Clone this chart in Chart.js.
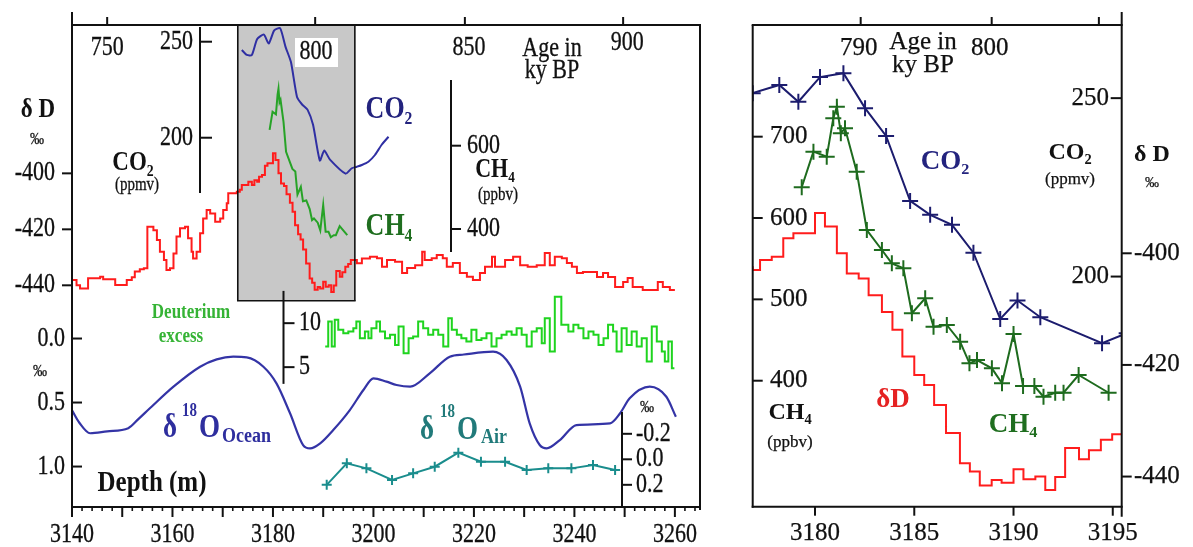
<!DOCTYPE html>
<html><head><meta charset="utf-8">
<script src="https://cdn.jsdelivr.net/npm/chart.js@4.4.0/dist/chart.umd.min.js"></script>
<style>
html,body{margin:0;padding:0;background:#fff;width:1193px;height:547px;overflow:hidden;}
canvas{position:absolute;top:0;}
#c1{left:0;width:720px;height:547px;}
#c2{left:720px;width:473px;height:547px;}
</style></head><body>
<canvas id="c1" width="720" height="547"></canvas>
<canvas id="c2" width="473" height="547"></canvas>
<script>
// ---------------- DATA ----------------
// deuterium (δD, permil) vs depth (m), stepped record
const dDDepth = [3140.0,3140.9,3141.6,3143.2,3145.6,3146.2,3148.6,3150.9,3151.9,3152.5,3153.5,3154.3,3155.0,3156.2,3156.9,3157.5,3158.3,3158.8,3159.5,3160.2,3160.8,3161.5,3162.5,3163.1,3163.8,3164.1,3164.8,3165.5,3166.1,3166.8,3167.5,3168.5,3169.5,3170.1,3170.8,3171.1,3172.8,3173.4,3173.8,3175.1,3175.8,3176.3,
 3176.86,3177.23,3177.82,3178.40,3178.91,3180.0,3180.5,3181.1,3181.6,3182.2,3182.7,3183.37,3183.9,3184.4,3185.0,3185.5,3186.0,3186.6,3187.3,3187.8,3188.3,3188.9,3189.4,3190.0,3190.5,3191.1,3191.6,3192.1,3192.6,3193.3,3193.8,3194.4,3194.97,
 3195.5,3196.7,3197.7,3199.3,3200.7,3201.7,3202.7,3204.3,3205.7,3206.7,3208.3,3209.7,3210.2,3211.6,3212.6,3213.8,3214.6,3215.8,3217.2,3218.6,3219.8,3221.2,3222.2,3223.6,3224.2,3226.2,3227.8,3229.2,3230.7,3232.5,3234.1,3235.1,3236.1,3237.5,3238.5,3239.5,3240.5,3241.7,3243.1,3244.5,3245.7,3246.7,3248.1,3249.7,3250.6,3251.6,3253.6,3255.0,3256.6,3257.6,3259.0,3260.0];
const dDValue = [-438.1,-440.0,-441.1,-437.5,-436.9,-437.8,-439.9,-438.1,-437.1,-435.1,-434.3,-433.9,-419.1,-420.3,-423.8,-428.0,-431.0,-434.5,-433.9,-428.6,-422.6,-419.6,-419.1,-423.2,-428.0,-430.4,-428.0,-421.4,-416.1,-413.1,-414.3,-417.3,-416.1,-413.1,-410.7,-407.1,-406.6,-405.9,-404.2,-403.0,-404.2,-402.5,
 -403.0,-401.2,-400.6,-397.3,-396.4,-392.8,-395.2,-400.0,-403.6,-404.5,-407.5,-410.5,-413.7,-418.5,-421.8,-423.6,-427.2,-432.2,-437.6,-439.1,-441.6,-440.6,-441.1,-438.7,-440.5,-440.0,-442.4,-440.1,-434.9,-436.9,-435.3,-433.4,-432.4,
 -431.0,-432.1,-430.4,-429.8,-430.3,-433.4,-431.0,-431.6,-435.6,-433.8,-432.8,-428.0,-431.0,-430.3,-429.2,-430.3,-433.4,-432.0,-435.6,-436.9,-438.1,-435.6,-433.4,-429.8,-433.4,-431.0,-429.8,-432.8,-433.4,-432.8,-428.5,-432.8,-429.8,-430.3,-432.0,-433.4,-435.6,-435.2,-435.2,-437.0,-435.6,-437.0,-440.6,-438.8,-437.4,-440.6,-441.7,-441.7,-438.8,-440.6,-441.7,-441.7];

// CO2 (ppmv)
const co2Depth = [3173.8,3174.8,3175.8,3176.86,3178.2,3179.16,3180.25,3181.43,3182.52,3183.58,3184.79,3185.8,3186.9,3187.98,3189.33,3190.2,3191.35,3194.46,3195.7,3196.7,3197.7,3199.0,3200.3,3201.6,3203.0];
const co2Value = [245.7,243.1,243.1,251.4,253.7,249.0,255.9,257.0,247.2,239.4,221.2,217.3,214.5,206.7,188.1,193.3,188.6,181.3,184.1,184.9,185.8,187.5,191.0,196.2,200.5];

// CH4 (ppbv)
const ch4Depth = [3179.33,3179.92,3180.59,3180.92,3181.1,3181.3,3181.51,3182.1,3182.61,3183.37,3183.87,3184.45,3184.88,3185.55,3185.97,3186.64,3187.31,3187.78,3188.16,3188.91,3189.42,3190.0,3190.48,3191.05,3191.51,3192.1,3192.52,3193.28,3194.79];
const ch4Value = [637.8,681.6,675.4,722.6,736.9,704.2,710.3,657.0,585.3,560.7,544.3,538.2,482.9,501.3,466.4,468.5,447.9,421.4,425.4,415.2,396.8,457.4,393.5,393.5,380.3,385.2,385.2,407.0,385.2];

// Deuterium excess (permil)
const dexDepth = [3190.4,3191.0,3191.7,3192.3,3193.0,3194.0,3195.0,3196.0,3196.6,3197.3,3198.3,3199.0,3199.6,3200.6,3201.3,3202.3,3203.3,3204.3,3205.0,3206.0,3207.0,3207.9,3208.9,3209.9,3210.9,3211.9,3212.9,3213.9,3214.9,3215.6,3216.6,3217.5,3218.5,3219.5,3220.5,3221.5,3222.5,3223.5,3224.5,3225.5,3226.5,3227.5,3228.5,3229.5,3230.5,3231.5,3232.5,3233.5,3234.1,3235.1,3236.1,3237.4,3238.8,3239.8,3240.8,3241.8,3242.8,3243.8,3244.8,3245.8,3246.7,3247.7,3248.4,3249.4,3250.4,3251.4,3252.4,3253.4,3254.4,3255.4,3256.4,3257.4,3258.0,3258.7,3259.4,3259.9];
const dexValue = [7.34,10.19,7.34,10.38,9.24,8.86,9.05,9.43,10.19,8.29,9.05,8.29,9.43,10.19,9.05,8.29,8.67,7.53,9.62,6.58,8.29,8.48,10.19,9.43,8.67,9.24,8.67,7.34,10.57,9.24,8.67,8.29,7.91,9.24,8.10,8.29,8.86,7.34,8.29,8.67,9.05,8.67,9.43,8.67,7.34,9.05,9.43,7.72,10.57,6.77,13.0,9.81,9.05,9.81,9.43,8.29,9.05,8.67,7.53,8.29,9.81,9.05,6.77,9.43,7.53,9.05,7.34,8.29,5.64,9.62,7.91,6.77,5.64,7.91,4.88,4.88];

// δ18O ocean (permil)
const oceanDepth = [3140.0,3141.5,3143.6,3147.0,3151.2,3153.2,3155.5,3160.2,3165.5,3168.8,3172.1,3174.8,3178.1,3180.7,3183.4,3186.0,3187.4,3189.4,3192.0,3195.3,3198.0,3200.0,3202.6,3204.6,3207.3,3211.2,3215.2,3218.0,3223.8,3226.5,3229.2,3231.1,3233.1,3234.5,3237.1,3240.4,3247.1,3249.1,3251.0,3255.0,3258.3,3260.2];
const oceanValue = [0.56,0.66,0.74,0.725,0.70,0.63,0.545,0.376,0.22,0.163,0.142,0.147,0.22,0.35,0.584,0.832,0.858,0.819,0.715,0.559,0.402,0.311,0.337,0.363,0.376,0.272,0.142,0.125,0.103,0.168,0.376,0.663,0.832,0.858,0.793,0.676,0.663,0.584,0.467,0.376,0.455,0.611];

// δ18O air (permil)
const airDepth = [3190.7,3194.7,3198.6,3203.7,3207.9,3212.2,3216.9,3221.4,3226.2,3230.5,3234.8,3239.4,3243.7,3248.1];
const airValue = [0.20,0.031,0.071,0.162,0.110,0.058,-0.052,0.019,0.019,0.084,0.071,0.071,0.045,0.084];

// tick labels
const depthTicksL = [3140,3160,3180,3200,3220,3240,3260];
const ageTicksL = [750,800,850,900];
const ageTickDepthL = [3147.0,3188.4,3218.2,3249.7];
const dDTicks = [-400,-420,-440];
const co2TicksL = [250,200];
const ch4TicksL = [600,400];
const dexTicks = [10,5];
const oceanTicks = [0.0,0.5,1.0];
const airTicks = [-0.2,0.0,0.2];
const depthTicksR = [3180,3185,3190,3195];
const ageTicksR = [790,800,''];
const ageTickDepthR = [3182.3,3188.9,3194.3];
const ch4TicksR = [700,600,500,400];
const co2TicksR = [250,200];
const dDTicksR = [-400,-420,-440];
// highlighted depth interval (grey box)
const boxDepth = [3173.0,3196.3];

// ---------------- HELPERS ----------------
const FONT = '"Liberation Serif","Times New Roman",serif';
function txt(ctx, s, x, y, o = {}) {
  ctx.save();
  ctx.font = (o.bold ? 'bold ' : '') + (o.size || 22) + 'px ' + FONT;
  ctx.fillStyle = o.color || '#111';
  ctx.strokeStyle = o.color || '#111';
  ctx.lineWidth = 0.25;
  ctx.textAlign = o.align || 'center';
  ctx.textBaseline = 'middle';
  ctx.translate(x, y);
  ctx.scale(1, o.sy || 1);
  ctx.fillText(s, 0, 0);
  if (!o.bold) ctx.strokeText(s, 0, 0);
  ctx.restore();
}
function line(ctx, x0, y0, x1, y1, w = 2, c = '#111') {
  ctx.save(); ctx.strokeStyle = c; ctx.lineWidth = w; ctx.lineCap = 'butt';
  ctx.beginPath(); ctx.moveTo(x0, y0); ctx.lineTo(x1, y1); ctx.stroke(); ctx.restore();
}
function pts(d, v) { return d.map((x, i) => ({x, y: v[i]})); }
const fmt1 = v => v.toFixed(1);

// ---------------- LEFT PANEL ----------------
const SYL = 1.22;
const leftPlugin = {
  id: 'leftDeco',
  beforeDatasetsDraw(chart) {
    const {ctx, chartArea: a, scales: s} = chart;
    const x0 = s.x.getPixelForValue(boxDepth[0]), x1 = s.x.getPixelForValue(boxDepth[1]);
    const y1 = s.yD.getPixelForValue(-445.5);
    ctx.save(); ctx.fillStyle = '#c8c8c8'; ctx.fillRect(x0, a.top, x1 - x0, y1 - a.top); ctx.restore();
  },
  afterDatasetsDraw(chart) {
    const {ctx, chartArea: a, scales: s} = chart;
    const X = v => s.x.getPixelForValue(v);
    const bx0 = X(boxDepth[0]), bx1 = X(boxDepth[1]), by1 = s.yD.getPixelForValue(-445.5);
    line(ctx, bx0, a.top, bx0, by1, 1.6); line(ctx, bx1, a.top, bx1, by1, 1.6); line(ctx, bx0 - 0.8, by1, bx1 + 0.8, by1, 1.6);
    line(ctx, a.left, 12, a.left, a.bottom + 1);
    line(ctx, a.left - 1, a.top, a.right + 1, a.top);
    line(ctx, a.right, a.top, a.right, a.bottom + 3);
    line(ctx, a.left - 1, a.bottom, a.right + 1, a.bottom);
    for (let d = 3140; d <= 3264; d += 2) {
      const major = d % 10 === 0;
      line(ctx, X(d), a.bottom, X(d), a.bottom + (major ? 10 : 4), major ? 2 : 1.6);
    }
    depthTicksL.forEach(d => txt(ctx, String(d), X(d), 535, {size: 22, sy: SYL}));
    ageTickDepthL.forEach(d => line(ctx, X(d), a.top, X(d), a.top - 8));
    txt(ctx, String(ageTicksL[0]), X(ageTickDepthL[0]), 48, {size: 22, sy: SYL});
    ctx.save(); ctx.fillStyle = '#fff'; ctx.fillRect(295, 38, 43, 29); ctx.restore();
    txt(ctx, String(ageTicksL[1]), 316, 52, {size: 22, sy: SYL});
    txt(ctx, String(ageTicksL[2]), X(ageTickDepthL[2]) + 4, 48, {size: 22, sy: SYL});
    txt(ctx, String(ageTicksL[3]), X(ageTickDepthL[3]) + 4, 43, {size: 22, sy: SYL});
    txt(ctx, 'Age in', 552, 49, {size: 22, sy: SYL});
    txt(ctx, 'ky BP', 552, 71, {size: 22, sy: SYL});
    dDTicks.forEach(v => {
      const y = s.yD.getPixelForValue(v);
      line(ctx, a.left - 10, y, a.left, y);
      txt(ctx, String(v), a.left - 17, y, {size: 22, sy: SYL, align: 'right'});
    });
    txt(ctx, 'δ D', 38, 110, {size: 23, bold: true, sy: SYL});
    txt(ctx, '‰', 37, 140, {size: 14, sy: SYL});
    oceanTicks.forEach(v => {
      const y = s.yO.getPixelForValue(v);
      line(ctx, a.left, y, a.left + 10, y);
      txt(ctx, fmt1(v), 65, y, {size: 22, sy: SYL, align: 'right'});
    });
    txt(ctx, '‰', 40, 372, {size: 14, sy: SYL});
    {
      const xa = 200;
      line(ctx, xa, s.yC.getPixelForValue(257.7), xa, s.yC.getPixelForValue(171.2));
      co2TicksL.forEach(v => { const y = s.yC.getPixelForValue(v); line(ctx, xa, y, xa + 12, y); txt(ctx, String(v), 193, y, {size: 22, sy: SYL, align: 'right'}); });
      txt(ctx, 'CO₂', 133, 163, {size: 23, bold: true, sy: SYL});
      txt(ctx, '(ppmv)', 137, 185, {size: 15, sy: SYL});
    }
    {
      const xa = 451;
      line(ctx, xa, s.yM.getPixelForValue(757.7), xa, s.yM.getPixelForValue(344.8));
      ch4TicksL.forEach(v => { const y = s.yM.getPixelForValue(v); line(ctx, xa, y, xa + 10, y); txt(ctx, String(v), 467, y, {size: 22, sy: SYL, align: 'left'}); });
      txt(ctx, 'CH₄', 495, 170, {size: 22, bold: true, sy: SYL});
      txt(ctx, '(ppbv)', 498, 195, {size: 15, sy: SYL});
    }
    {
      const xa = 283.5;
      line(ctx, xa, s.yE.getPixelForValue(13.67), xa, s.yE.getPixelForValue(3.1));
      dexTicks.forEach(v => { const y = s.yE.getPixelForValue(v); line(ctx, xa, y, xa + 11, y); txt(ctx, String(v), 299, y, {size: 22, sy: SYL, align: 'left'}); });
      txt(ctx, 'Deuterium', 191, 313, {size: 17, bold: true, color: '#35b335', sy: SYL});
      txt(ctx, 'excess', 181, 337, {size: 17, bold: true, color: '#35b335', sy: SYL});
    }
    {
      const xa = 622;
      line(ctx, xa, s.yA.getPixelForValue(-0.371), xa, a.bottom);
      airTicks.forEach(v => { const y = s.yA.getPixelForValue(v); line(ctx, xa, y, xa + 10, y); txt(ctx, fmt1(v), 636, y, {size: 22, sy: SYL, align: 'left'}); });
      txt(ctx, '‰', 647, 408, {size: 14, sy: SYL});
    }
    txt(ctx, 'CO₂', 389, 110, {size: 26, bold: true, color: '#23237e', sy: SYL});
    txt(ctx, 'CH₄', 389, 227, {size: 26, bold: true, color: '#1f6e1f', sy: SYL});
    const ocC = '#2e2e9e';
    txt(ctx, 'δ', 163, 428, {size: 27, bold: true, color: ocC, sy: SYL, align: 'left'});
    txt(ctx, '18', 182, 411, {size: 15, bold: true, color: ocC, sy: SYL, align: 'left'});
    txt(ctx, 'O', 199, 428, {size: 27, bold: true, color: ocC, sy: SYL, align: 'left'});
    txt(ctx, 'Ocean', 222, 436, {size: 18, bold: true, color: ocC, sy: SYL, align: 'left'});
    const aiC = '#217a7a';
    txt(ctx, 'δ', 420, 430, {size: 27, bold: true, color: aiC, sy: SYL, align: 'left'});
    txt(ctx, '18', 440, 412, {size: 15, bold: true, color: aiC, sy: SYL, align: 'left'});
    txt(ctx, 'O', 457, 430, {size: 27, bold: true, color: aiC, sy: SYL, align: 'left'});
    txt(ctx, 'Air', 481, 437, {size: 18, bold: true, color: aiC, sy: SYL, align: 'left'});
    txt(ctx, 'Depth (m)', 152, 483, {size: 25, bold: true, sy: SYL});
  }
};

new Chart(document.getElementById('c1'), {
  type: 'line',
  data: {
    datasets: [
      {label: 'δD', data: pts(dDDepth, dDValue), yAxisID: 'yD', borderColor: '#ff1c1c', borderWidth: 2, stepped: 'before', pointRadius: 0},
      {label: 'CO2', data: pts(co2Depth, co2Value), yAxisID: 'yC', borderColor: '#2f2fa3', borderWidth: 2, tension: 0.2, pointRadius: 0},
      {label: 'CH4', data: pts(ch4Depth, ch4Value), yAxisID: 'yM', borderColor: '#27a327', borderWidth: 2, tension: 0, pointRadius: 0},
      {label: 'Deuterium excess', data: pts(dexDepth, dexValue), yAxisID: 'yE', borderColor: '#1fd41f', borderWidth: 2, stepped: 'before', pointRadius: 0},
      {label: 'δ18O ocean', data: pts(oceanDepth, oceanValue), yAxisID: 'yO', borderColor: '#3434a6', borderWidth: 2.2, cubicInterpolationMode: 'monotone', pointRadius: 0},
      {label: 'δ18O air', data: pts(airDepth, airValue), yAxisID: 'yA', borderColor: '#1a8d8d', backgroundColor: '#1a8d8d', borderWidth: 2, pointStyle: 'cross', pointRadius: 5, pointBorderWidth: 2}
    ]
  },
  options: {
    responsive: false, animation: false, devicePixelRatio: 1,
    layout: {padding: {left: 72, top: 25, right: 20, bottom: 40}},
    plugins: {legend: {display: false}, tooltip: {enabled: false}},
    scales: {
      x: {type: 'linear', min: 3140, max: 3265, display: false},
      yD: {type: 'linear', min: -519.2, max: -347.0, display: false},
      yC: {type: 'linear', min: 7.7, max: 258.7, display: false},
      yM: {type: 'linear', min: -267.5, max: 889.8, display: false},
      yE: {type: 'linear', min: -10.9, max: 43.9, display: false},
      yO: {type: 'linear', min: -2.449, max: 1.316, reverse: true, display: false},
      yA: {type: 'linear', min: -3.406, max: 0.374, reverse: true, display: false}
    }
  },
  plugins: [leftPlugin]
});

// ---------------- RIGHT PANEL ----------------
const OX = 720;
const rightPlugin = {
  id: 'rightDeco',
  afterDatasetsDraw(chart) {
    const {ctx, chartArea: a, scales: s} = chart;
    const X = v => s.x.getPixelForValue(v);
    const T = (str, x, y, o) => txt(ctx, str, x - OX, y, Object.assign({size: 25}, o || {}));
    line(ctx, a.left, a.top, a.left, a.bottom + 1);
    line(ctx, a.right, 12, a.right, a.bottom + 10);
    line(ctx, a.left - 1, a.top, a.right + 1, a.top);
    line(ctx, a.left - 1, a.bottom, a.right + 1, a.bottom);
    depthTicksR.forEach(d => { line(ctx, X(d), a.bottom, X(d), a.bottom + 9); T(String(d), X(d) + OX, 533); });
    ageTickDepthR.forEach((d, i) => { line(ctx, X(d), a.top, X(d), a.top - 8); if (ageTicksR[i] !== '') T(String(ageTicksR[i]), X(d) + OX - 2, 48); });
    T('Age in', 923, 42); T('ky BP', 923, 65);
    ch4TicksR.forEach(v => { const y = s.yM.getPixelForValue(v); line(ctx, a.left, y, a.left + 10, y); T(String(v), 770, y, {align: 'left'}); });
    T('CH₄', 790, 413, {bold: true, size: 24});
    T('(ppbv)', 790, 443, {size: 17});
    co2TicksR.forEach(v => { const y = s.yC.getPixelForValue(v); line(ctx, a.right - 11, y, a.right, y); T(String(v), 1109, y, {align: 'right'}); });
    T('CO₂', 1070, 153, {bold: true, size: 24});
    T('(ppmv)', 1070, 180, {size: 17});
    dDTicksR.forEach(v => { const y = s.yD.getPixelForValue(v); line(ctx, a.right, y, a.right + 10, y); T(String(v), 1134, y, {align: 'left'}); });
    T('δ D', 1152, 155, {bold: true, size: 24});
    T('‰', 1152, 183, {size: 14});
    T('CO₂', 945, 162, {bold: true, size: 27, color: '#23237e'});
    T('CH₄', 1013, 425, {bold: true, size: 27, color: '#1f6e1f'});
    T('δD', 893, 400, {bold: true, size: 27, color: '#e52222'});
  }
};

new Chart(document.getElementById('c2'), {
  type: 'line',
  data: {
    datasets: [
      {label: 'δD', data: pts(dDDepth, dDValue), yAxisID: 'yD', borderColor: '#ff1c1c', borderWidth: 2, stepped: 'before', pointRadius: 0},
      {label: 'CO2', data: pts(co2Depth, co2Value), yAxisID: 'yC', borderColor: '#1c1c6e', backgroundColor: '#1c1c6e', borderWidth: 2, pointStyle: 'cross', pointRadius: 8, pointBorderWidth: 2},
      {label: 'CH4', data: pts(ch4Depth, ch4Value), yAxisID: 'yM', borderColor: '#1e6b1e', backgroundColor: '#1e6b1e', borderWidth: 2, pointStyle: 'cross', pointRadius: 8, pointBorderWidth: 2}
    ]
  },
  options: {
    responsive: false, animation: false, devicePixelRatio: 1,
    layout: {padding: {left: 32.7, top: 25, right: 71.3, bottom: 40.3}},
    plugins: {legend: {display: false}, tooltip: {enabled: false}},
    scales: {
      x: {type: 'linear', min: 3176.86, max: 3195.45, display: false},
      yM: {type: 'linear', min: 245.1, max: 837.3, display: false},
      yC: {type: 'linear', min: 135.5, max: 270.5, display: false},
      yD: {type: 'linear', min: -445.4, max: -359.1, display: false}
    }
  },
  plugins: [rightPlugin]
});
</script>
</body></html>
